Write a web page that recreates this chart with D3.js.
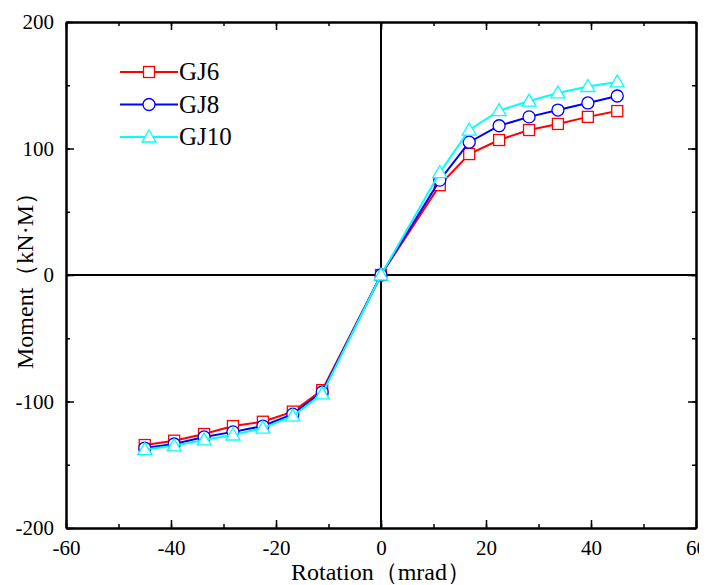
<!DOCTYPE html>
<html><head><meta charset="utf-8">
<script src="https://cdn.jsdelivr.net/npm/d3@7/dist/d3.min.js"></script>
</head><body>
<script>
const rotation = [-45, -39.4, -33.7, -28.2, -22.5, -16.8, -11.2, 0, 11.2, 16.8, 22.5, 28.2, 33.7, 39.4, 45];
const gj6  = [-134.4, -131, -125.7, -119.4, -116, -108, -91, 0, 71, 95.6, 106.7, 114.6, 119.4, 125, 129.6];
const gj8  = [-136.8, -133.6, -128, -124, -119.4, -110, -92.5, 0, 75, 105, 118, 125, 130.4, 136, 141.5];
const gj10 = [-138, -135, -130.4, -126.5, -121, -111.5, -94, 0, 81, 114.6, 130, 137.5, 143.9, 149, 152.6];
const seriesNames = ["GJ6", "GJ8", "GJ10"];
const seriesColors = ["#ff0000", "#0000ff", "#00ffff"];
const seriesMarkers = ["square", "circle", "triangle"];
const xTicks = [-60, -40, -20, 0, 20, 40, 60];
const yTicks = [-200, -100, 0, 100, 200];

// body keeps its default 8px margin; the viewBox starts at 8,8 so svg units equal page pixels
const W = 707, H = 585, M = 8;
const L = 66, R = 696, T = 22, B = 528;
const FONT = '"Liberation Serif"';
const svg = d3.select("body").append("svg").attr("width", W - M).attr("height", H - M)
  .attr("viewBox", `${M} ${M} ${W - M} ${H - M}`);
const x = d3.scaleLinear().domain([-60, 60]).range([L, R]);
const y = d3.scaleLinear().domain([-200, 200]).range([B, T]);
const fmt = d => String(d);

svg.append("line").attr("x1", x(0)).attr("x2", x(0)).attr("y1", T).attr("y2", B).attr("stroke", "#000").attr("stroke-width", 2);
svg.append("line").attr("x1", L).attr("x2", R).attr("y1", y(0)).attr("y2", y(0)).attr("stroke", "#000").attr("stroke-width", 2);

const minorX = d3.range(-60, 61, 10), minorY = d3.range(-200, 201, 50);
function axisG(axis, tr) {
  const g = svg.append("g").attr("transform", tr).call(axis);
  g.attr("font-family", null).attr("font-size", null);
  g.select(".domain").attr("stroke-width", 2);
  g.selectAll(".tick line").attr("stroke-width", 1.5);
  g.selectAll("text").style("font-family", FONT).attr("font-size", 21).attr("fill", "#000");
  return g;
}
axisG(d3.axisBottom(x).tickValues(minorX).tickSizeInner(-4).tickSizeOuter(0).tickFormat(""), `translate(0,${B})`);
axisG(d3.axisTop(x).tickValues(minorX).tickSizeInner(-4).tickSizeOuter(0).tickFormat(""), `translate(0,${T})`);
axisG(d3.axisLeft(y).tickValues(minorY).tickSizeInner(-4).tickSizeOuter(0).tickFormat(""), `translate(${L},0)`);
axisG(d3.axisRight(y).tickValues(minorY).tickSizeInner(-4).tickSizeOuter(0).tickFormat(""), `translate(${R},0)`);
axisG(d3.axisBottom(x).tickValues(xTicks).tickSizeInner(-8).tickSizeOuter(0).tickPadding(12).tickFormat(fmt), `translate(0,${B})`);
axisG(d3.axisTop(x).tickValues(xTicks).tickSizeInner(-8).tickSizeOuter(0).tickFormat(""), `translate(0,${T})`);
axisG(d3.axisLeft(y).tickValues(yTicks).tickSizeInner(-8).tickSizeOuter(0).tickPadding(12).tickFormat(fmt), `translate(${L},0)`);
axisG(d3.axisRight(y).tickValues(yTicks).tickSizeInner(-8).tickSizeOuter(0).tickFormat(""), `translate(${R},0)`);

svg.append("text").attr("x", x(0)).attr("y", 580).attr("text-anchor", "middle")
  .style("font-family", FONT).attr("font-size", 24).text("Rotation（mrad）");
svg.append("text").attr("transform", `translate(33,${y(0)}) rotate(-90)`).attr("text-anchor", "middle")
  .style("font-family", FONT).attr("font-size", 24).text("Moment（kN·M）");

function marker(g, type, color, cx, cy) {
  if (type === "square") g.append("rect").attr("x", cx - 5.5).attr("y", cy - 5.5).attr("width", 11).attr("height", 11)
    .attr("fill", "#fff").attr("stroke", color).attr("stroke-width", 1.3);
  else if (type === "circle") g.append("circle").attr("cx", cx).attr("cy", cy).attr("r", 6)
    .attr("fill", "#fff").attr("stroke", color).attr("stroke-width", 1.3);
  else g.append("path").attr("d", `M${cx},${cy - 7}L${cx + 7},${cy + 5}L${cx - 7},${cy + 5}Z`)
    .attr("fill", "#fff").attr("stroke", color).attr("stroke-width", 1.3);
}

const allSeries = [gj6, gj8, gj10];
const line = d3.line().x((d, i) => x(rotation[i])).y(d => y(d));
allSeries.forEach((vals, k) => {
  const g = svg.append("g");
  g.append("path").datum(vals).attr("d", line).attr("fill", "none")
    .attr("stroke", seriesColors[k]).attr("stroke-width", 2);
  vals.forEach((v, i) => marker(g, seriesMarkers[k], seriesColors[k], x(rotation[i]), y(v)));
});

seriesNames.forEach((name, k) => {
  const ly = 72 + k * 32.5;
  const g = svg.append("g");
  g.append("line").attr("x1", 120).attr("x2", 178).attr("y1", ly).attr("y2", ly)
    .attr("stroke", seriesColors[k]).attr("stroke-width", 2);
  marker(g, seriesMarkers[k], seriesColors[k], 149, ly);
  g.append("text").attr("x", 179).attr("y", ly + 8).style("font-family", FONT).attr("font-size", 25).text(name);
});
</script>
</body></html>
